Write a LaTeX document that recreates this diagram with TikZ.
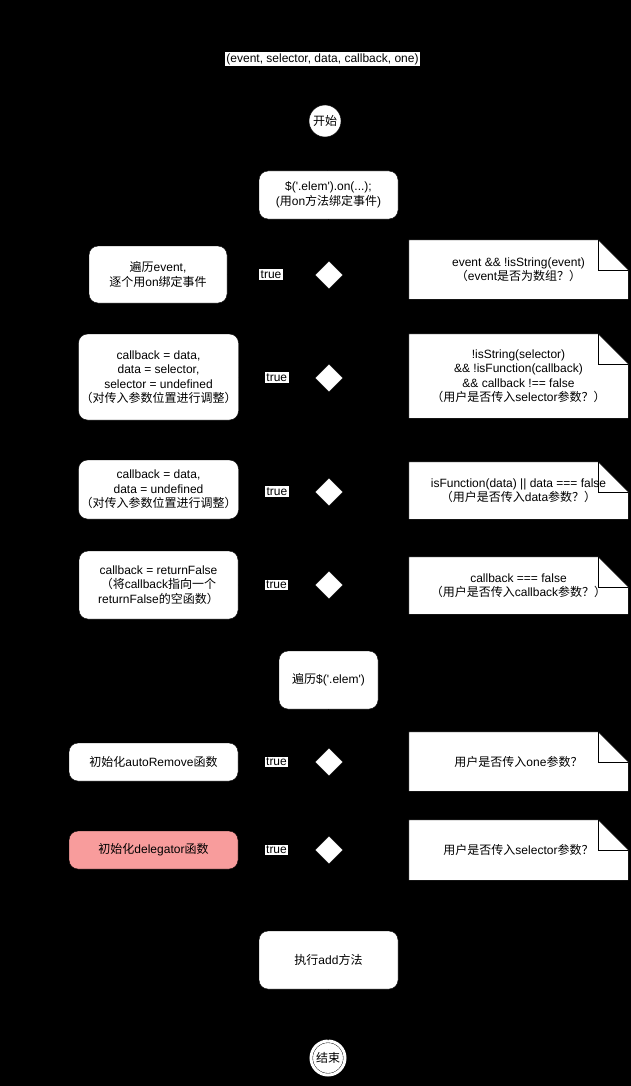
\documentclass[tikz,border=0pt]{standalone}
\usepackage{fontspec}
\usepackage{xcolor}
\usepackage{tikz}
\usetikzlibrary{positioning, arrows.meta, shapes.geometric}

\newfontfamily\latinfont{Liberation Sans}
\newfontfamily\cjkfont{Noto Sans CJK SC}
\newcommand{\zh}[1]{{\cjkfont #1}}
\definecolor{delegpink}{RGB}{248,156,156}

\pgfdeclarelayer{background}
\pgfsetlayers{background,main}

\begin{document}
\begin{tikzpicture}[
    x=1pt, y=-1pt,
    % Define common styles
        every node/.style={font=\latinfont\fontsize{12}{14.5}\selectfont},
        box/.style={draw=black, fill=white, rounded corners=9pt, align=center, inner sep=2pt},
        note/.style={align=center, minimum width=219pt, inner sep=2pt},
        cond/.style={diamond, draw=black, fill=white, minimum width=28pt, minimum height=28pt, inner sep=0pt},
        terminal/.style={circle, draw=black, fill=white, inner sep=0pt},
        lbl/.style={fill=white, inner sep=1.5pt},
        arrow/.style={-Latex, black}
    ]
    \useasboundingbox (0,0) rectangle (631,1086);

        % Parameters of the call
        \node[lbl] (params) at (322.5,59) {(event, selector, data, callback, one)};

        % Start node and the call itself
        \node[terminal, minimum size=32pt] (start) at (325,121) {\zh{开始}};
        \node[box, minimum width=139pt, minimum height=48pt] (on) at (328.5,195) {\$('.elem').on(...);\\(\zh{用}on\zh{方法绑定事件})};

        % Row 1: event is an object
        \node[cond] (d1) at (329,275) {};
        \node[box, minimum width=138pt, minimum height=57pt] (b1) at (158,274.5) {\zh{遍历}event,\\\zh{逐个用}on\zh{绑定事件}};
        \node[note, minimum height=59pt] (n1) at (518.5,269.5) {event \&\& !isString(event)\\\zh{（}event\zh{是否为数组？）}};

        % Row 2: no selector given
        \node[cond] (d2) at (329,378) {};
        \node[box, minimum width=159pt, minimum height=86pt] (b2) at (158.5,377) {callback = data,\\data = selector,\\selector = undefined\\\zh{（对传入参数位置进行调整）}};
        \node[note, minimum height=84pt] (n2) at (518.5,376) {!isString(selector)\\\&\& !isFunction(callback)\\\&\& callback !== false\\\zh{（用户是否传入}selector\zh{参数？）}};

        % Row 3: no data given
        \node[cond] (d3) at (329,492) {};
        \node[box, minimum width=159pt, minimum height=59pt] (b3) at (158.5,489.5) {callback = data,\\data = undefined\\\zh{（对传入参数位置进行调整）}};
        \node[note, minimum height=57pt] (n3) at (518.5,490.5) {isFunction(data) || data === false\\\zh{（用户是否传入}data\zh{参数？）}};

        % Row 4: callback is false
        \node[cond] (d4) at (329,585) {};
        \node[box, minimum width=159pt, minimum height=68pt] (b4) at (158.5,585) {callback = returnFalse\\\zh{（将}callback\zh{指向一个}\\returnFalse\zh{的空函数）}};
        \node[note, minimum height=57pt] (n4) at (518.5,585.5) {callback === false\\\zh{（用户是否传入}callback\zh{参数？）}};

        % Loop over the elements
        \node[box, minimum width=99pt, minimum height=58pt] (iter) at (328.5,680) {\zh{遍历}\$('.elem')};

        % Row 5: one
        \node[cond] (d5) at (329,762) {};
        \node[box, minimum width=169pt, minimum height=38pt] (b5) at (153.5,762) {\zh{初始化}autoRemove\zh{函数}};
        \node[note, minimum height=59pt] (n5) at (518.5,761.5) {\zh{用户是否传入}one\zh{参数？}};

        % Row 6: delegation
        \node[cond] (d6) at (329,850) {};
        \node[box, fill=delegpink, minimum width=169pt, minimum height=38pt] (b6) at (153.5,850) {\zh{初始化}delegator\zh{函数}};
        \node[note, minimum height=60pt] (n6) at (518.5,850) {\zh{用户是否传入}selector\zh{参数？}};

        % add and end
        \node[box, minimum width=139pt, minimum height=58pt] (add) at (328.5,960) {\zh{执行}add\zh{方法}};
        \node[terminal, minimum size=34pt, double=white, double distance=3pt] (end) at (328,1058) {\zh{结束}};

        % Background and the note shapes
        \begin{pgfonlayer}{background}
            \fill[black] (0,0) rectangle (631,1086);
            \foreach \n in {n1,n2,n3,n4,n5,n6} {
                \filldraw[fill=white, draw=black] (\n.north west) -- ([xshift=-30pt]\n.north east) -- ([yshift=-30pt]\n.north east) -- (\n.south east) -- (\n.south west) -- cycle;
                \draw[black] ([xshift=-30pt]\n.north east) |- ([yshift=-30pt]\n.north east);
            }
        \end{pgfonlayer}

        % Main flow
        \draw[arrow] (start) -- (on);
        \draw[arrow] (on) -- (d1);
        \draw[arrow] (d1) -- (d2);
        \draw[arrow] (d2) -- (d3);
        \draw[arrow] (d3) -- (d4);
        \draw[arrow] (d4) -- (iter);
        \draw[arrow] (iter) -- (d5);
        \draw[arrow] (d5) -- (d6);
        \draw[arrow] (d6) -- (add);
        \draw[arrow] (add) -- (end);

        % true branches
        \foreach \i in {1,...,6}
            \draw[arrow] (d\i) -- node[lbl] {true} (b\i);

\end{tikzpicture}
\end{document}
